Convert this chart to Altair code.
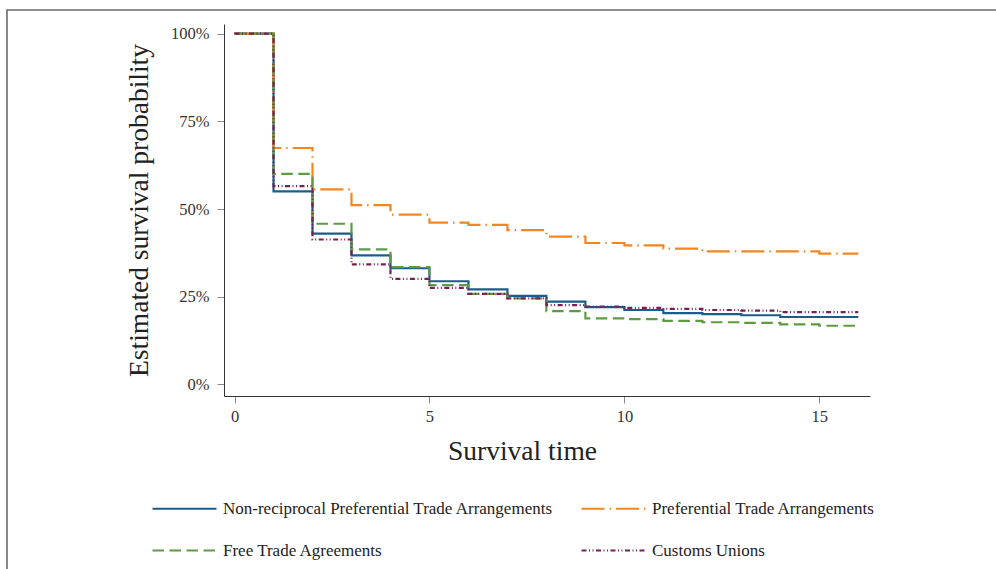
import altair as alt
import pandas as pd

# ---- data ----
times = list(range(17))
series_names = [
    "Non-reciprocal Preferential Trade Arrangements",
    "Preferential Trade Arrangements",
    "Free Trade Agreements",
    "Customs Unions",
]
npta = [1.00, 0.550, 0.430, 0.368, 0.331, 0.294, 0.271, 0.252, 0.236, 0.220, 0.212, 0.203, 0.200, 0.197, 0.192, 0.192, 0.192]
pta = [1.00, 0.674, 0.556, 0.511, 0.484, 0.461, 0.455, 0.440, 0.421, 0.403, 0.396, 0.387, 0.379, 0.379, 0.379, 0.373, 0.373]
fta = [1.00, 0.600, 0.458, 0.385, 0.334, 0.283, 0.258, 0.245, 0.209, 0.188, 0.186, 0.181, 0.177, 0.175, 0.171, 0.167, 0.167]
cu = [1.00, 0.565, 0.413, 0.342, 0.301, 0.275, 0.258, 0.245, 0.226, 0.222, 0.218, 0.215, 0.212, 0.210, 0.206, 0.206, 0.206]

x_ticks = [0, 5, 10, 15]
y_ticks = [0, 0.25, 0.5, 0.75, 1.0]

colors = ["#1a5c8c", "#f5861f", "#5e9a41", "#7b1f52"]
dashes = [[1, 0], [23, 5, 1.5, 5], [11.5, 5.5], [5, 2.5, 1, 2.5, 1, 2.5]]

rows = []
for name, vals in zip(series_names, [npta, pta, fta, cu]):
    for t, v in zip(times, vals):
        rows.append({"time": t, "surv": v, "group": name})
df = pd.DataFrame(rows)

FONT = "Liberation Serif"

legend = alt.Legend(
    title=None,
    orient="none",
    legendX=-75,
    legendY=476,
    columns=2,
    direction="horizontal",
    symbolType="M-1,0L11.8,0",
    symbolSize=100,
    symbolStrokeWidth=2.2,
    labelFont=FONT,
    labelFontSize=17,
    labelColor="#222222",
    labelOffset=57,
    labelLimit=0,
    columnPadding=23,
    rowPadding=24,
)

xs = alt.Scale(domain=[-0.27, 16.3], nice=False, zero=False)
ys = alt.Scale(domain=[-0.0333, 1.0276], nice=False, zero=False)

x_axis = alt.Axis(
    values=x_ticks, title="Survival time", titleFont=FONT, titleFontSize=27.5,
    titleFontWeight="normal", titleColor="#222222", titleX=298, titleY=55,
    titleBaseline="middle", labelFont=FONT, labelFontSize=16.5, labelColor="#333333",
    labelPadding=5, tickSize=7, tickColor="#8a8a8a", domainColor="#333333", grid=False,
    labelFlush=False,
)
y_axis = alt.Axis(
    values=y_ticks, format=".0%", title="Estimated survival probability", titleFont=FONT,
    titleFontSize=27.5, titleFontWeight="normal", titleColor="#222222", titleX=-85, titleY=186,
    titleAngle=270, titleBaseline="middle", titleAlign="center", labelFont=FONT,
    labelFontSize=16.5, labelColor="#333333", labelPadding=8, tickSize=7, tickColor="#8a8a8a",
    domainColor="#333333", grid=False, labelFlush=False,
)

color_enc = alt.Color("group:N", scale=alt.Scale(domain=series_names, range=colors), legend=legend)
dash_enc = alt.StrokeDash("group:N", scale=alt.Scale(domain=series_names, range=dashes), legend=legend)

lines = []
for i, name in enumerate(series_names):
    sub = df[df["group"] == name]
    ch = alt.Chart(sub).mark_line(interpolate="step-after", strokeWidth=2.2).encode(
        x=alt.X("time:Q", scale=xs, axis=x_axis),
        y=alt.Y("surv:Q", scale=ys, axis=y_axis),
        color=color_enc,
        strokeDash=dash_enc,
    )
    lines.append(ch)

frame = alt.Chart(pd.DataFrame({"k": [0]})).mark_rect(
    fillOpacity=0, stroke="#6a6a6a", strokeWidth=1.6
).encode(
    x=alt.value(-217), x2=alt.value(900), y=alt.value(-14), y2=alt.value(700)
)

chart = alt.layer(*lines, frame).properties(
    width=646,
    height=372,
    padding={"left": 224, "top": 24, "right": 126, "bottom": 173},
    autosize=alt.AutoSizeParams(type="none"),
    background="white",
).configure_view(stroke=None)

chart.save("out.html", embed_options={"renderer": "svg", "actions": False})
